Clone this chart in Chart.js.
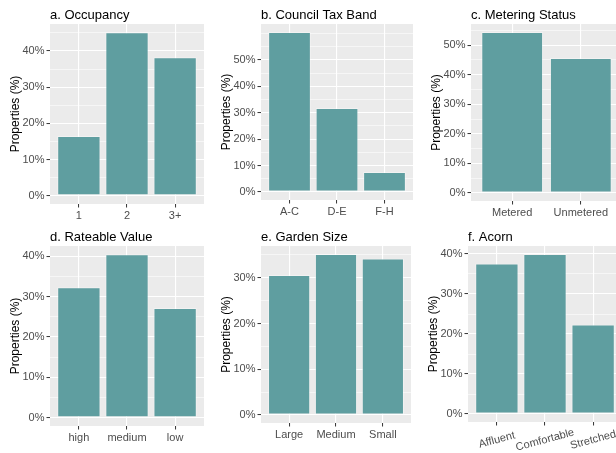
<!DOCTYPE html>
<html>
<head>
<meta charset="utf-8">
<script src="https://cdn.jsdelivr.net/npm/chart.js@4.4.1/dist/chart.umd.min.js"></script>
<style>
	html, body { margin: 0; padding: 0; background: #fff; }
	body { position: relative; width: 616px; height: 453px; overflow: hidden; }
	canvas { position: absolute; }
</style>
</head>
<body>
<script>
// Share of properties (%) in each group
const occupancyLabels = ['1', '2', '3+'];
const occupancyValues = [16.5, 45.2, 38.3];

const taxBandLabels = ['A-C', 'D-E', 'F-H'];
const taxBandValues = [60.6, 31.8, 7.6];

const meteringLabels = ['Metered', 'Unmetered'];
const meteringValues = [54.4, 45.6];

const rateableLabels = ['high', 'medium', 'low'];
const rateableValues = [32.3, 40.5, 27.2];

const gardenLabels = ['Large', 'Medium', 'Small'];
const gardenValues = [30.6, 35.2, 34.2];

const acornLabels = ['Affluent', 'Comfortable', 'Stretched'];
const acornValues = [37.6, 40.0, 22.4];

// labelled breaks on the y axes
const occupancyTicks = [0, 10, 20, 30, 40];
const taxBandTicks   = [0, 10, 20, 30, 40, 50];
const meteringTicks  = [0, 10, 20, 30, 40, 50];
const rateableTicks  = [0, 10, 20, 30, 40];
const gardenTicks    = [0, 10, 20, 30];
const acornTicks     = [0, 10, 20, 30, 40];

const FONT = '"Liberation Sans", Arial, Helvetica, sans-serif';
const AXIS_W = 50;
const TITLE_H = 24;

const panels = [
	{ title: 'a. Occupancy',        labels: occupancyLabels, values: occupancyValues, breaks: occupancyTicks, left: 50,  top: 24,  width: 154, height: 180, axisH: 26 },
	{ title: 'b. Council Tax Band', labels: taxBandLabels,   values: taxBandValues,   breaks: taxBandTicks,   left: 261, top: 24,  width: 152, height: 176, axisH: 26 },
	{ title: 'c. Metering Status',  labels: meteringLabels,  values: meteringValues,  breaks: meteringTicks,  left: 471, top: 24,  width: 151, height: 177, axisH: 26 },
	{ title: 'd. Rateable Value',   labels: rateableLabels,  values: rateableValues,  breaks: rateableTicks,  left: 50,  top: 246, width: 154, height: 180, axisH: 26 },
	{ title: 'e. Garden Size',      labels: gardenLabels,    values: gardenValues,    breaks: gardenTicks,    left: 261, top: 246, width: 150, height: 177, axisH: 26 },
	{ title: 'f. Acorn',            labels: acornLabels,     values: acornValues,     breaks: acornTicks,     left: 468, top: 246, width: 154, height: 176, axisH: 34, tilt: 15 }
];

Chart.defaults.font.family = FONT;

// grey panel, title above it and (optionally) tilted category labels
const panelDecor = {
	id: 'panelDecor',
	beforeDraw (chart, args, opts) {
		const { ctx, chartArea: a } = chart;
		ctx.save();
		ctx.fillStyle = '#EBEBEB';
		ctx.fillRect(a.left, a.top, a.right - a.left, a.bottom - a.top);
		ctx.fillStyle = '#000';
		ctx.font = `13px ${FONT}`;
		ctx.textAlign = 'left';
		ctx.textBaseline = 'middle';
		ctx.fillText(opts.title, a.left, a.top - 8.5);
		ctx.restore();
	},
	afterDraw (chart, args, opts) {
		if (!opts.tilt) return;
		const { ctx, chartArea: a } = chart;
		const x = chart.scales.x;
		ctx.save();
		ctx.fillStyle = '#4D4D4D';
		ctx.font = `11px ${FONT}`;
		ctx.textAlign = 'center';
		ctx.textBaseline = 'middle';
		opts.labels.forEach((label, i) => {
			ctx.save();
			ctx.translate(x.getPixelForValue(i + 1), a.bottom + 18);
			ctx.rotate(-opts.tilt * Math.PI / 180);
			ctx.fillText(label, 0, 0);
			ctx.restore();
		});
		ctx.restore();
	}
};

function createPanel (p) {
	const canvas = document.createElement('canvas');
	canvas.width = p.width + AXIS_W;
	canvas.height = p.height + TITLE_H + p.axisH;
	canvas.style.left = `${p.left - AXIS_W}px`;
	canvas.style.top = `${p.top - TITLE_H}px`;
	document.body.appendChild(canvas);

	const top = Math.max(...p.values);
	const isMajor = v => p.breaks.includes(v);

	return new Chart(canvas, {
		type: 'bar',
		data: {
			datasets: [{
				data: p.values.map((v, i) => ({ x: i + 1, y: v })),
				backgroundColor: '#5F9EA0',
				borderColor: 'rgba(255, 255, 255, 0.35)',
				borderWidth: 1,
				borderSkipped: false,
				barPercentage: 0.9,
				categoryPercentage: 1
			}]
		},
		options: {
			responsive: false,
			animation: false,
			layout: { padding: { top: TITLE_H, left: 0, right: 0, bottom: 0 } },
			plugins: {
				legend: { display: false },
				tooltip: { enabled: false },
				panelDecor: { title: p.title, labels: p.labels, tilt: p.tilt }
			},
			scales: {
				x: {
					type: 'linear',
					offset: false,
					min: 0.4,
					max: p.labels.length + 0.6,
					afterBuildTicks: scale => {
						scale.ticks = p.labels.map((_, i) => ({ value: i + 1 }));
					},
					afterFit: scale => { scale.height = p.axisH; },
					border: { display: false },
					grid: {
						offset: false,
						color: '#FFFFFF',
						lineWidth: 1.1,
						tickColor: '#333333',
						tickWidth: 1,
						tickLength: 3.5
					},
					ticks: {
						autoSkip: false,
						maxRotation: 0,
						padding: 2,
						color: '#4D4D4D',
						font: { size: 11 },
						callback: v => p.tilt ? '' : p.labels[v - 1]
					}
				},
				y: {
					min: -0.05 * top,
					max: 1.05 * top,
					afterBuildTicks: scale => {
						const ticks = [];
						for (let v = 0; v <= scale.max; v += 5) ticks.push({ value: v });
						scale.ticks = ticks;
					},
					afterFit: scale => { scale.width = AXIS_W; },
					border: { display: false },
					grid: {
						color: '#FFFFFF',
						lineWidth: ctx => isMajor(ctx.tick.value) ? 1.1 : 0.55,
						tickColor: ctx => isMajor(ctx.tick.value) ? '#333333' : 'rgba(0,0,0,0)',
						tickWidth: 1,
						tickLength: 3.5
					},
					ticks: {
						autoSkip: false,
						padding: 2,
						color: '#4D4D4D',
						font: { size: 11 },
						callback: v => isMajor(v) ? `${v}%` : ''
					},
					title: {
						display: true,
						text: 'Properties (%)',
						color: '#000000',
						font: { size: 12 },
						padding: { top: 8, bottom: 0 }
					}
				}
			}
		},
		plugins: [panelDecor]
	});
}

panels.forEach(createPanel);
</script>
</body>
</html>
